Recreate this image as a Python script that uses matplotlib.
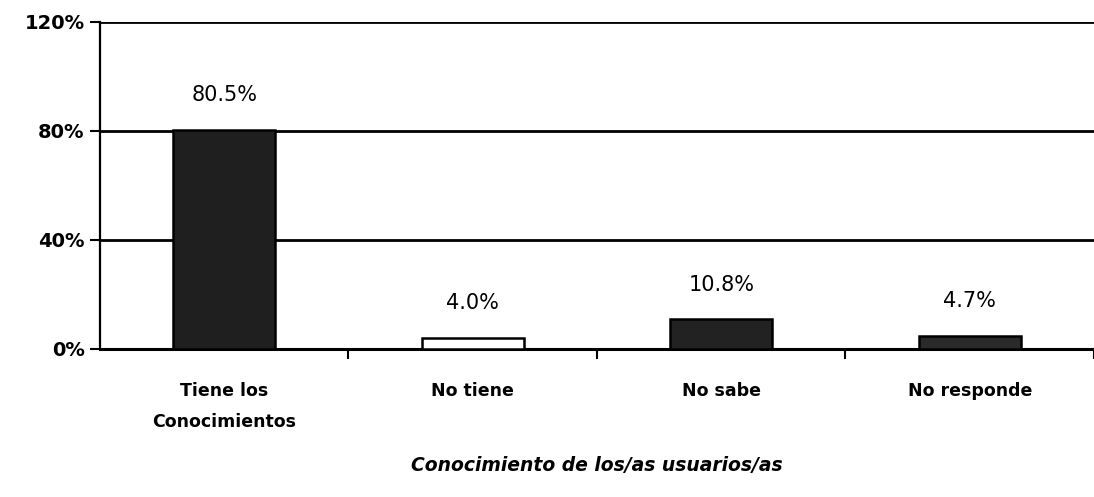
import matplotlib.pyplot as plt
import numpy as np

# datos
categorias = ['Tiene los\nConocimientos', 'No tiene', 'No sabe', 'No responde']
valores = [80.5, 4.0, 10.8, 4.7]
etiquetas = ['80.5%', '4.0%', '10.8%', '4.7%']
colores = ['#1f1f1f', 'white', '#222222', '#2a2a2a']
yticks = [0, 40, 80, 120]
ytick_labels = ['0%', '40%', '80%', '120%']

plt.rcParams['font.family'] = 'DejaVu Sans'

fig = plt.figure(figsize=(10.94, 4.97), dpi=100)
ax = fig.add_axes([0.0914, 0.298, 0.9086, 0.658])

x = np.arange(len(categorias))
barras = ax.bar(x, valores, width=0.41, color=colores, edgecolor='black', linewidth=1.8, zorder=3)

for xi, v, t in zip(x, valores, etiquetas):
    ax.annotate(t, (xi, v), xytext=(0, 25), textcoords='offset points',
                ha='center', va='center', fontsize=15)

ax.set_xlim(-0.5, 3.5)
ax.set_ylim(0, 120)
ax.set_yticks(yticks)
ax.set_yticklabels(ytick_labels, fontsize=14, fontweight='bold')
ax.yaxis.grid(True, color='black', linewidth=2)
ax.set_axisbelow(True)

# ticks entre categorias, etiquetas al centro
ax.set_xticks([0.5, 1.5, 2.5, 3.5])
ax.set_xticklabels([])
ax.set_xticks(x, minor=True)
ax.set_xticklabels(categorias, minor=True, fontsize=12.5, fontweight='bold', linespacing=1.9)
ax.tick_params(axis='x', which='major', length=7, width=1.5, direction='out')
ax.tick_params(axis='x', which='minor', length=0, pad=24)
ax.tick_params(axis='y', length=7, width=1.5, pad=4)

for s in ['top', 'right']:
    ax.spines[s].set_visible(False)
ax.spines['left'].set_linewidth(1.6)
ax.spines['bottom'].set_linewidth(2.2)

ax.set_xlabel('Conocimiento de los/as usuarios/as', fontsize=13.5, fontweight='bold',
              fontstyle='italic', labelpad=18)

fig.savefig('out.png', dpi=100)
